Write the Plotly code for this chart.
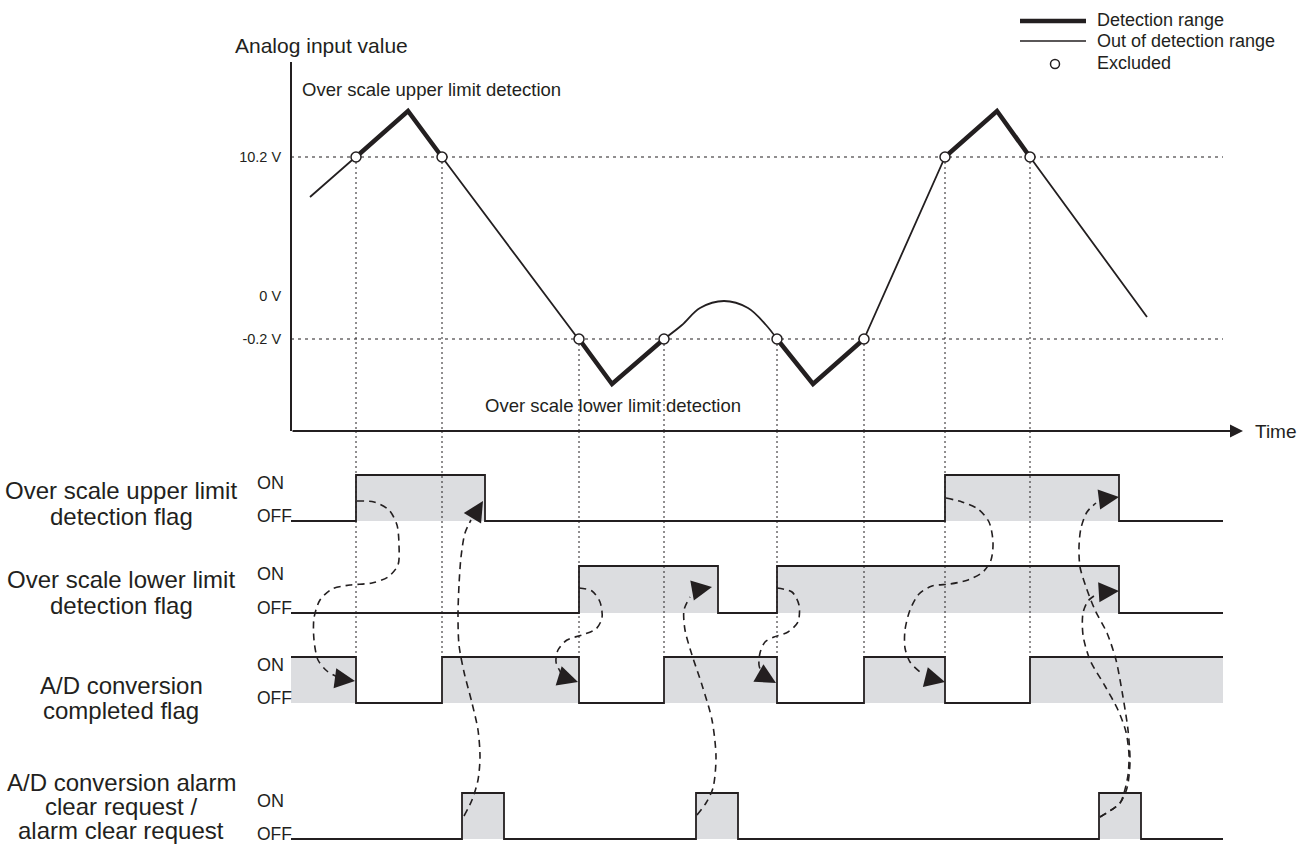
import plotly.graph_objects as go

INK = "#231f20"
GREY = "#dcdde0"
FONT = "Liberation Sans, Arial, sans-serif"
W, H = 1300, 844

# analog input value on a schematic level axis
level_ticks = [274, 135, 92]
level_text = ["10.2 V", "0 V", "-0.2 V"]

ramp1_t = [310, 356, 408, 442, 579, 612, 664]
ramp1_v = [234, 274, 320, 274, 92, 47, 92]
hump_t = [664, 682, 700, 724, 748, 766, 777]
hump_v = [92, 106, 123, 130, 123, 106, 92]
ramp2_t = [777, 813, 864, 945, 997, 1030, 1147]
ramp2_v = [92, 47, 92, 274, 320, 274, 114]

# thick pieces = detection range
det_t = [356, 408, 442, None, 579, 612, 664, None, 777, 813, 864, None, 945, 997, 1030]
det_v = [274, 320, 274, None, 92, 47, 92, None, 92, 47, 92, None, 274, 320, 274]

# excluded points (limit crossings)
cross_t = [356, 442, 579, 664, 777, 864, 945, 1030]
cross_v = [274, 274, 92, 92, 92, 92, 274, 274]

t_start, t_end = 291, 1223

# flags, 0 = OFF, 1 = ON
upper_t = [291, 356, 485, 945, 1119, 1223]
upper_v = [0, 1, 0, 1, 0, 0]
lower_t = [291, 579, 718, 777, 1119, 1223]
lower_v = [0, 1, 0, 1, 0, 0]
done_t = [291, 356, 442, 579, 664, 777, 864, 945, 1030, 1223]
done_v = [1, 0, 1, 0, 1, 0, 1, 0, 1, 1]
clear_t = [291, 462, 504, 696, 738, 1099, 1141, 1223]
clear_v = [0, 1, 0, 1, 0, 1, 0, 0]

rows = [
    ("y2", upper_t, upper_v, 475, 521, ["Over scale upper limit", "detection flag"], [490, 516]),
    ("y3", lower_t, lower_v, 566, 613, ["Over scale lower limit", "detection flag"], [579, 605]),
    ("y4", done_t, done_v, 657, 703, ["A/D conversion", "completed flag"], [685, 710]),
    ("y5", clear_t, clear_v, 793, 839, ["A/D conversion alarm", "clear request /", "alarm clear request"], [782, 806, 830]),
]

# dashed cause/effect arrows (page pixels): path, arrow base, arrow tip
arrows = [
    ([(357, 501), (374, 502), (389, 510), (397, 525), (399, 545), (398, 565), (388, 577), (372, 583), (350, 585),
      (332, 589), (320, 600), (314, 618), (314, 640), (318, 660), (327, 671), (340, 678)], (340, 679), (355, 681)),
    ([(464, 816), (472, 800), (478, 780), (480, 757), (478, 730), (472, 703), (464, 672), (459, 645), (458, 615),
      (459, 585), (461, 557), (465, 533), (471, 520)], (472, 519), (483, 501)),
    ([(579, 588), (592, 591), (600, 602), (602, 618), (596, 629), (582, 635), (567, 640), (558, 650), (556, 662),
      (561, 673)], (562, 677), (578, 682)),
    ([(697, 815), (706, 803), (713, 788), (716, 757), (712, 720), (702, 685), (692, 655), (685, 630), (684, 610),
      (690, 597)], (695, 590), (712, 587)),
    ([(777, 588), (792, 592), (799, 605), (798, 622), (788, 632), (774, 637), (765, 642), (760, 653), (759, 665),
      (762, 674)], (762, 675), (776, 683)),
    ([(946, 498), (962, 502), (978, 509), (989, 522), (993, 542), (991, 560), (983, 572), (968, 580), (950, 584),
      (932, 586), (919, 594), (910, 610), (905, 630), (905, 648), (910, 662), (920, 672)], (929, 678), (945, 682)),
    ([(1100, 817), (1120, 803), (1127, 788), (1130, 762), (1128, 730), (1123, 697), (1116, 660), (1107, 633),
      (1095, 610), (1086, 587), (1080, 567), (1079, 547), (1081, 528), (1087, 512), (1096, 503)], (1103, 499), (1119, 497)),
    ([(1100, 817), (1120, 803), (1124, 793), (1128, 775), (1129, 755), (1126, 732), (1118, 710), (1105, 686),
      (1090, 660), (1083, 635), (1083, 613), (1088, 601), (1097, 594)], (1103, 592), (1119, 591)),
]

fig = go.Figure()

# limit levels
for lv in [274, 92]:
    fig.add_trace(go.Scatter(x=[t_start, t_end], y=[lv, lv], mode="lines", xaxis="x", yaxis="y",
                             line=dict(color=INK, width=1.2, dash="3px,4px")))

# guides from crossings down to the time axis
gx, gy = [], []
for t, v in zip(cross_t, cross_v):
    gx += [t, t, None]
    gy += [v, 0, None]
fig.add_trace(go.Scatter(x=gx, y=gy, mode="lines", xaxis="x", yaxis="y",
                         line=dict(color=INK, width=1, dash="2px,3px")))

# analog waveform
for tt, vv, shape in [(ramp1_t, ramp1_v, "linear"), (hump_t, hump_v, "spline"), (ramp2_t, ramp2_v, "linear")]:
    fig.add_trace(go.Scatter(x=tt, y=vv, mode="lines", xaxis="x", yaxis="y",
                             line=dict(color=INK, width=1.8, shape=shape)))
fig.add_trace(go.Scatter(x=det_t, y=det_v, mode="lines", xaxis="x", yaxis="y",
                         line=dict(color=INK, width=4.5)))
fig.add_trace(go.Scatter(x=cross_t, y=cross_v, mode="markers", xaxis="x", yaxis="y",
                         marker=dict(symbol="circle", size=10, color="white", line=dict(color=INK, width=1.5))))

# flag rows
layout_rows = {}
annotations = []
for ax, tt, vv, on_px, off_px, label, label_y in rows:
    pad = 0.1 * (off_px - on_px)
    layout_rows["yaxis" + ax[1:]] = dict(domain=[1 - (off_px + pad) / H, 1 - (on_px - pad) / H],
                                        range=[-0.1, 1.1], visible=False, anchor="x")
    fig.add_trace(go.Scatter(x=tt, y=vv, mode="lines", xaxis="x", yaxis=ax,
                             line=dict(color=INK, width=1.8, shape="hv"), fill="tozeroy", fillcolor=GREY))
    annotations.append(dict(text="ON", x=255, y=on_px + 8, xanchor="left", font=dict(size=18)))
    annotations.append(dict(text="OFF", x=255, y=off_px - 5, xanchor="left", font=dict(size=17.5)))
    for txt, ly in zip(label, label_y):
        annotations.append(dict(text=txt, x=121, y=ly, xanchor="center", font=dict(size=24)))

# guides continuing down through the flag rows (page pixels)
vx, vy = [], []
for t in cross_t:
    vx += [t, t, None]
    vy += [431, 657, None]
fig.add_trace(go.Scatter(x=vx, y=vy, mode="lines", xaxis="x", yaxis="y6",
                         line=dict(color=INK, width=1, dash="2px,3px")))

# dashed arrows
for path, base, tip in arrows:
    fig.add_trace(go.Scatter(x=[p[0] for p in path], y=[p[1] for p in path], mode="lines", xaxis="x", yaxis="y6",
                             line=dict(color=INK, width=1.6, dash="7px,5px", shape="spline", smoothing=0.8)))
    annotations.append(dict(text="", x=tip[0], y=tip[1], ax=base[0], ay=base[1], axref="x", ayref="y6",
                            showarrow=True, arrowhead=2, arrowsize=2.7, arrowwidth=1.5, arrowcolor=INK))

# time axis
annotations.append(dict(text="", x=1243, y=431, ax=291, ay=431, axref="x", ayref="y6",
                        showarrow=True, arrowhead=2, arrowsize=1.3, arrowwidth=2, arrowcolor=INK))

# legend
fig.add_trace(go.Scatter(x=[1020, 1086], y=[21, 21], mode="lines", xaxis="x", yaxis="y6",
                         line=dict(color=INK, width=4.5)))
fig.add_trace(go.Scatter(x=[1020, 1086], y=[41, 41], mode="lines", xaxis="x", yaxis="y6",
                         line=dict(color=INK, width=1.6)))
fig.add_trace(go.Scatter(x=[1055], y=[64], mode="markers", xaxis="x", yaxis="y6",
                         marker=dict(symbol="circle", size=9, color="white", line=dict(color=INK, width=1.5))))

texts = [
    ("Detection range", 1095, 20, 18, "left"),
    ("Out of detection range", 1095, 41, 18, "left"),
    ("Excluded", 1095, 63, 18, "left"),
    ("Analog input value", 233, 45, 21, "left"),
    ("Over scale upper limit detection", 300, 89, 18.5, "left"),
    ("Over scale lower limit detection", 483, 405, 18.5, "left"),
    ("Time", 1253, 431, 19, "left"),
]
for txt, x, y, s, anc in texts:
    annotations.append(dict(text=txt, x=x, y=y, xanchor=anc, font=dict(size=s)))

for a in annotations:
    a.setdefault("xref", "x")
    a.setdefault("yref", "y6")
    a.setdefault("showarrow", False)
    a.setdefault("yanchor", "middle")

fig.update_layout(
    width=W, height=H,
    margin=dict(l=0, r=0, t=0, b=0),
    paper_bgcolor="white", plot_bgcolor="rgba(0,0,0,0)",
    showlegend=False,
    font=dict(family=FONT, color=INK),
    xaxis=dict(range=[0, W], domain=[0, 1], visible=False, anchor="y6"),
    yaxis=dict(domain=[1 - 431 / H, 1 - 62 / H], range=[0, 369], anchor="free", position=291 / W,
               showline=True, linecolor=INK, linewidth=2, showgrid=False, zeroline=False,
               tickvals=level_ticks, ticktext=level_text, ticks="", ticklabelstandoff=6,
               tickfont=dict(size=14.5, color=INK)),
    yaxis6=dict(domain=[0, 1], range=[H, 0], visible=False, anchor="x"),
    annotations=annotations,
    **layout_rows,
)

# page body has a default 8px margin; drop it so the figure fills the window
fig.write_html("out.html", config={"displayModeBar": False},
               post_script="document.body.style.margin='0';")
